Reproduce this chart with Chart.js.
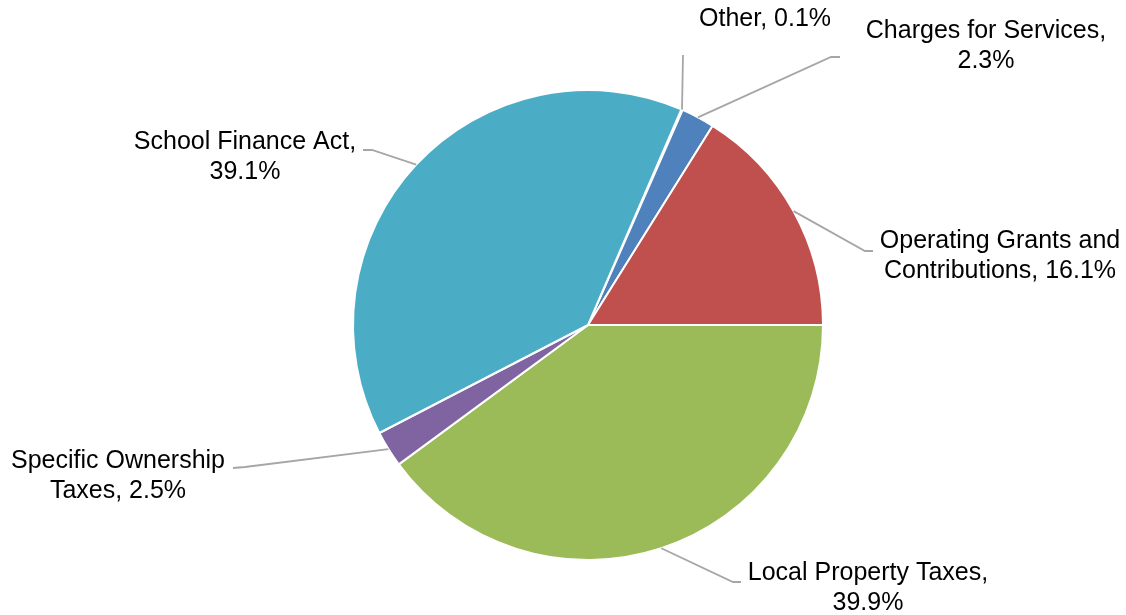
<!DOCTYPE html>
<html>
<head>
<meta charset="utf-8">
<script src="https://cdn.jsdelivr.net/npm/chart.js@4.4.1/dist/chart.umd.min.js"></script>
<style>
  html, body { margin: 0; padding: 0; background: #fff; }
  #wrap { width: 1126px; height: 615px; position: relative; }
</style>
</head>
<body>
<div id="wrap"><canvas id="chart"></canvas></div>
<script>
// revenue shares, in percent
const categories = [
    "Other",
    "Charges for Services",
    "Operating Grants and Contributions",
    "Local Property Taxes",
    "Specific Ownership Taxes",
    "School Finance Act",
];
const shares = [0.1, 2.3, 16.1, 39.9, 2.5, 39.1];
const sliceColors = ["#F79646", "#4F81BD", "#C0504D", "#9BBB59", "#8064A2", "#4BACC6"];

// label text broken into lines, same order as categories
const labelLines = [
    ["Other, 0.1%"],
    ["Charges for Services,", "2.3%"],
    ["Operating Grants and", "Contributions, 16.1%"],
    ["Local Property Taxes,", "39.9%"],
    ["Specific Ownership", "Taxes, 2.5%"],
    ["School Finance Act,", "39.1%"],
];

// where each label sits (centre of text block) and the elbow of its leader line
const labelPlace = [
    { x: 765, y: 19, elbow: [683, 55], end: [683, 55] },
    { x: 986, y: 46, elbow: [831, 57], end: [840, 57] },
    { x: 1000, y: 256, elbow: [865, 251], end: [873, 251] },
    { x: 868, y: 588, elbow: [733, 582], end: [741, 582] },
    { x: 118, y: 476, elbow: [245, 467], end: [233, 468] },
    { x: 245, y: 157, elbow: [372, 150], end: [363, 150] },
];

const outsideLabels = {
    id: "outsideLabels",
    afterDatasetsDraw(chart) {
        const ctx = chart.ctx;
        const arcs = chart.getDatasetMeta(0).data;
        ctx.save();
        ctx.strokeStyle = "#A6A6A6";
        ctx.lineWidth = 1.8;
        arcs.forEach((arc, i) => {
            const p = labelPlace[i];
            const mid = (arc.startAngle + arc.endAngle) / 2;
            const sx = arc.x + Math.cos(mid) * arc.outerRadius;
            const sy = arc.y + Math.sin(mid) * arc.outerRadius;
            ctx.beginPath();
            ctx.moveTo(sx, sy);
            ctx.lineTo(p.elbow[0], p.elbow[1]);
            ctx.lineTo(p.end[0], p.end[1]);
            ctx.stroke();

            const lines = labelLines[i];
            const lh = 30;
            ctx.fillStyle = "#000";
            ctx.font = '25px "Liberation Sans", Arial, sans-serif';
            ctx.textAlign = "center";
            ctx.textBaseline = "middle";
            const top = p.y - (lines.length - 1) * lh / 2;
            lines.forEach((t, k) => ctx.fillText(t, p.x, top + k * lh));
        });
        ctx.restore();
    },
};

new Chart(document.getElementById("chart"), {
    type: "pie",
    data: {
        labels: categories,
        datasets: [{
            data: shares,
            backgroundColor: sliceColors,
            borderColor: "#FFFFFF",
            borderWidth: 2,
        }],
    },
    options: {
        responsive: true,
        maintainAspectRatio: false,
        animation: false,
        rotation: 23.4,
        layout: { padding: { top: 89, bottom: 54, left: 352, right: 302 } },
        plugins: {
            legend: { display: false },
            tooltip: { enabled: false },
        },
    },
    plugins: [outsideLabels],
});
</script>
</body>
</html>
